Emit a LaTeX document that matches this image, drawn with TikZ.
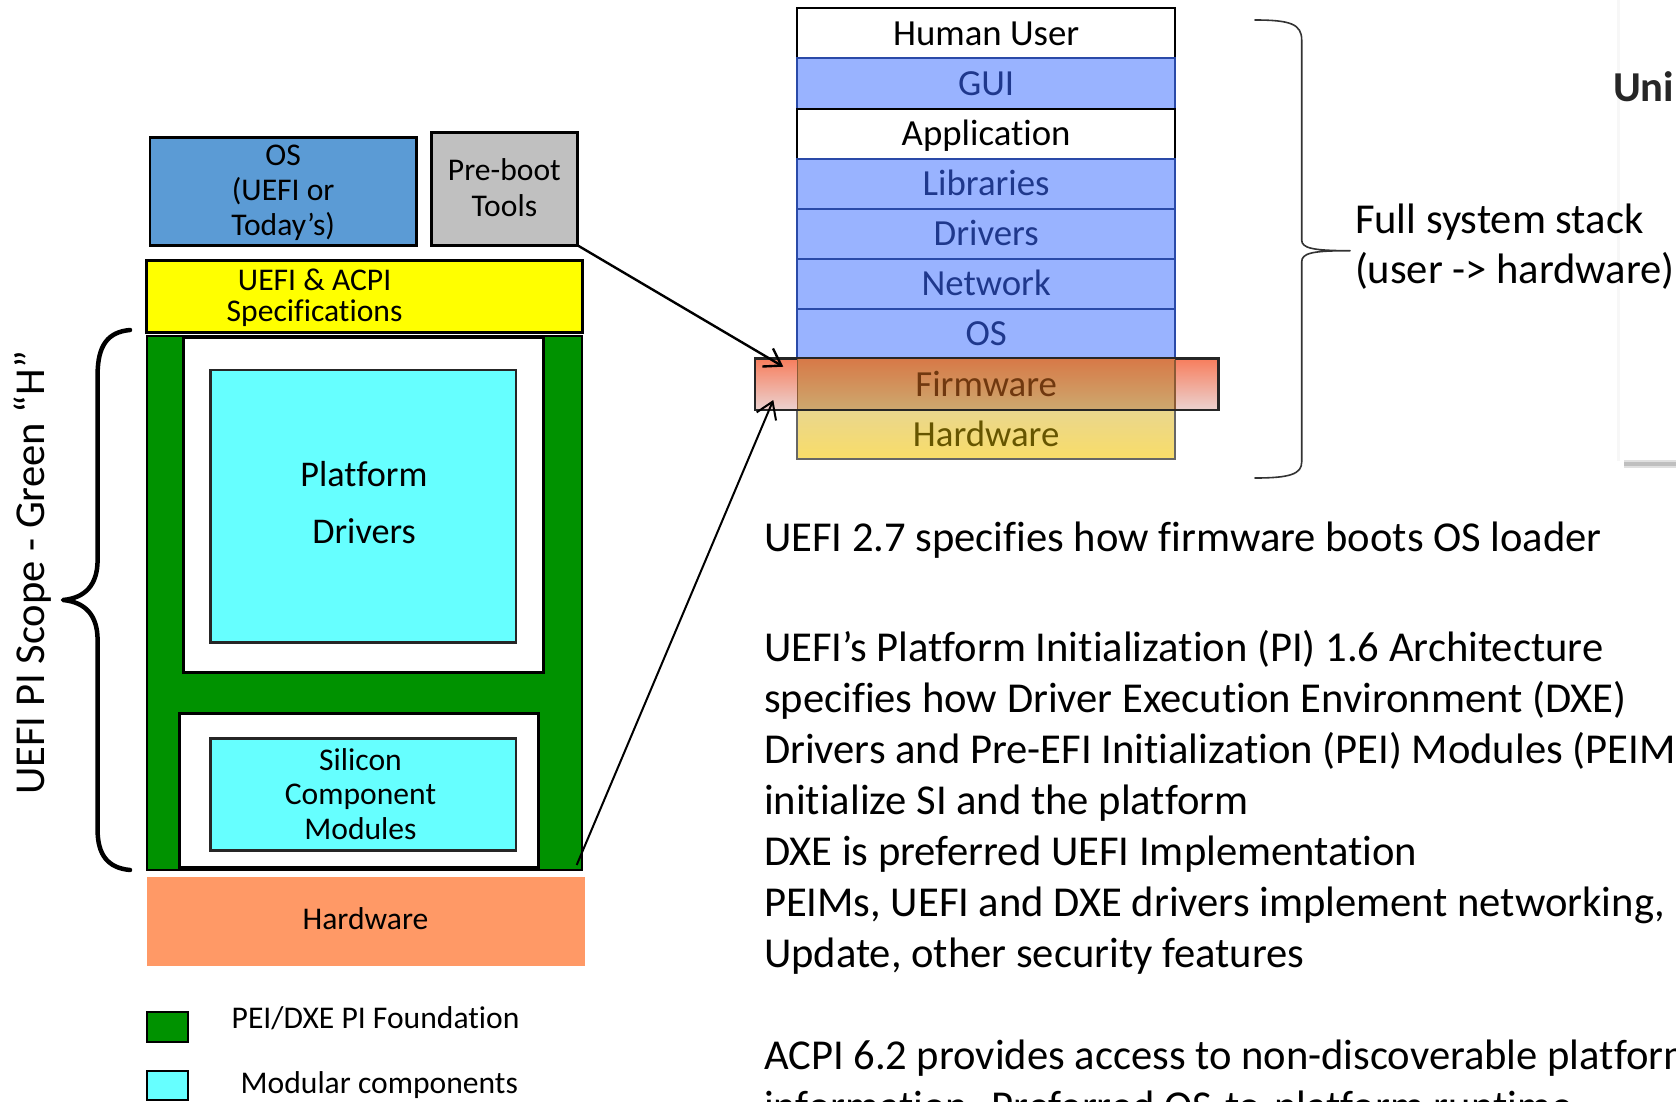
\documentclass[tikz,border=0pt]{standalone}
\usepackage{fontspec}
\setmainfont{Carlito}[Ligatures={TeX,NoCommon}]
\usetikzlibrary{arrows.meta,fit,calc}

\definecolor{osblue}{HTML}{5B9BD5}
\definecolor{toolgray}{HTML}{C0C0C0}
\definecolor{specyellow}{HTML}{FFFF00}
\definecolor{hgreen}{HTML}{009200}
\definecolor{modcyan}{HTML}{66FFFF}
\definecolor{hworange}{HTML}{FF9966}
\definecolor{layerblue}{HTML}{99B3FF}
\definecolor{layeredge}{HTML}{2A4AA8}
\definecolor{layertext}{HTML}{1F388C}
\definecolor{fwtop}{HTML}{F77D5C}
\definecolor{fwbot}{HTML}{EBD2D0}
\definecolor{fwintop}{HTML}{D77A48}
\definecolor{fwinbot}{HTML}{CDA86E}
\definecolor{fwtext}{HTML}{70380F}
\definecolor{fwedge}{HTML}{8A5A35}
\definecolor{hwtop}{HTML}{E9D68E}
\definecolor{hwbot}{HTML}{F9DD68}
\definecolor{hwtext}{HTML}{665500}

% font sizes (1pt = 1px of the layout grid)
\newcommand\fsml{\fontsize{31.6pt}{35pt}\selectfont}
\newcommand\fplat{\fontsize{36.2pt}{44pt}\selectfont}
\newcommand\fstk{\fontsize{36.8pt}{44pt}\selectfont}
\newcommand\fbig{\fontsize{42.6pt}{51pt}\selectfont}

% stacked lines whose baseline is that of the first line
\newcommand\linesc[2]{\vtop{\baselineskip=#1\lineskiplimit=-\maxdimen
  \halign{\hfil##\hfil\cr#2\crcr}}}
\newcommand\linesl[2]{\vtop{\baselineskip=#1\lineskiplimit=-\maxdimen
  \halign{##\hfil\cr#2\crcr}}}

\begin{document}
\begin{tikzpicture}[x=1pt,y=-1pt,
  box/.style={inner sep=0pt, outer sep=0pt, line width=2.5pt, draw=black},
  lbl/.style={inner sep=0pt, outer sep=0pt, anchor=base},
  lbll/.style={inner sep=0pt, outer sep=0pt, anchor=base west},
  layer/.style={inner sep=0pt, outer sep=0pt, line width=2pt,
    minimum width=377.7pt, minimum height=50.1pt,
    text height=24pt, text depth=0pt, font=\fstk},
  bluelayer/.style={layer, fill=layerblue, draw=layeredge, text=layertext},
  whitelayer/.style={layer, fill=white, draw=black},
  link/.style={line width=2.4pt, -{Straight Barb[length=16pt,width=21pt]}},
  bracestroke/.style={line cap=round, line join=round}
]
\useasboundingbox (0,0) rectangle (1676,1101);
\fill[white] (0,0) rectangle (1676,1101);
\begin{scope}
\clip (0,0) rectangle (1676,1101);

% edge of the neighbouring slide (kept under everything else)
\draw[black!3, line width=3pt] (1618,0) -- (1618,461);
\draw[black!12, line width=8pt] (1624,464) -- (1676,464);
\draw[black!25, line width=3.5pt] (1624,464) -- (1676,464);

% ---------- left: UEFI PI green "H" ----------
\node[box, fill=osblue, fit={(150,137.3) (416.4,245.3)}] (os) {};
\node[box, fill=toolgray, line width=3pt, fit={(431.3,132.3) (577.5,245.3)}] (pb) {};
\node[box, fill=specyellow, fit={(146.6,260.7) (582.5,332.7)}] (spec) {};
\node[box, fill=hgreen, line width=2pt, fit={(146.6,336) (581.7,870)}] (H) {};
\node[box, fill=white, line width=3pt, fit={(183,337.5) (543.4,672)}] (upw) {};
\node[box, fill=white, line width=3pt, fit={(179.9,713.3) (538.8,867.3)}] (loww) {};
\node[box, fill=modcyan, draw=black!85, fit={(210.5,370) (515.9,642.7)}] (plat) {};
\node[box, fill=modcyan, draw=black!85, fit={(210.5,738.7) (515.9,850.7)}] (sil) {};
\node[box, draw=none, fill=hworange, fit={(146.6,876.7) (584.8,966)}] (hwl) {};

\node[lbl, font=\fsml] (osT) at (283.2,165) {\linesc{35pt}{OS\cr(UEFI or\cr Today’s)}};
\node[lbl, font=\fsml] (pbT) at (504.4,180) {\linesc{36.7pt}{Pre-boot\cr Tools}};
\node[lbl, font=\fsml] (specT) at (314.6,290.7) {\linesc{31pt}{UEFI \& ACPI\cr Specifications}};
\node[lbl, font=\fplat] (platT) at (364,486.7) {\linesc{56.6pt}{Platform\cr Drivers}};
\node[lbl, font=\fsml] (silT) at (360.5,770) {\linesc{34.5pt}{Silicon\cr Component\cr Modules}};
\node[lbl, font=\fsml] (hwlT) at (365.5,929.3) {Hardware};

% legend
\node[box, line width=2pt, fill=hgreen, fit={(146.6,1012) (187.5,1041.7)}] (leg1) {};
\node[box, line width=2pt, fill=modcyan, fit={(146.6,1071) (187.5,1100)}] (leg2) {};
\node[lbl, font=\fsml] (leg1T) at (375.6,1028.3) {PEI/DXE PI Foundation};
\node[lbl, font=\fsml] (leg2T) at (379.3,1093.3) {Modular components};

% scope brace and its label
\draw[bracestroke, line width=4.5pt]
  (130,330) .. controls (108,332) and (97.6,345) .. (97.6,375)
  -- (97.6,560) .. controls (97.6,585) and (85,598) .. (63,600)
  .. controls (85,602) and (97.6,615) .. (97.6,640)
  -- (97.6,830) .. controls (97.6,855) and (108,868) .. (130,870);
\node[lbl, font=\fbig, rotate=90] (scopeT) at (44,573) {UEFI PI Scope - Green “H”};

% ---------- right: full system stack ----------
\node[whitelayer] (lHuman) at (986.15,33.35) {Human User};
\node[bluelayer] (lGui) at (986.15,83.45) {GUI};
\node[whitelayer] (lApp) at (986.15,133.55) {Application};
\node[bluelayer] (lLib) at (986.15,183.65) {Libraries};
\node[bluelayer] (lDrv) at (986.15,233.75) {Drivers};
\node[bluelayer] (lNet) at (986.15,283.85) {Network};
\node[bluelayer] (lOs) at (986.15,333.95) {OS};
\node[layer, top color=hwtop, bottom color=hwbot, draw=black!60, text=hwtext]
  (lHw) at (986.15,434.15) {Hardware};

% firmware band, wider than the stack
\node[box, top color=fwtop, bottom color=fwbot, draw=black!85,
  fit={(755,358.3) (1218.3,410)}] (fw) {};
\node[layer, draw=none, minimum height=49.2pt, top color=fwintop, bottom color=fwinbot,
  text=fwtext] (lFw) at (986.15,384.2) {Firmware};
\draw[fwedge, line width=1.5pt] (lFw.north west) -- (lFw.south west);
\draw[fwedge, line width=1.5pt] (lFw.north east) -- (lFw.south east);

% brace over the whole stack
\draw[bracestroke, line width=1.6pt, black!80]
  (1255,20) .. controls (1290,20) and (1301.7,24) .. (1301.7,40)
  -- (1301.7,240) .. controls (1301.7,248) and (1312,250.7) .. (1350,250.7)
  .. controls (1312,250.7) and (1301.7,253) .. (1301.7,262)
  -- (1301.7,462) .. controls (1301.7,474) and (1290,478) .. (1255,478);
\node[lbll, font=\fbig] (fullT) at (1355,233.3)
  {\linesl{50pt}{Full system stack\cr(user -> hardware)}};

% connectors into the firmware band
\coordinate (fwin1) at (783.3,366.7);
\coordinate (fwin2) at (773.3,400);
\draw[link] (pb.south east) -- (fwin1);
\draw[link, line width=2pt] ($(H.south east)+(-5,-5)$) -- (fwin2);

% ---------- explanatory text ----------
\node[lbll, font=\fbig] (t1) at (764,551.7) {UEFI 2.7 specifies how firmware boots OS loader};
\node[lbll, font=\fbig] (t2) at (764,661.5) {\linesl{51pt}{%
  UEFI’s Platform Initialization (PI) 1.6 Architecture\cr
  specifies how Driver Execution Environment (DXE)\cr
  Drivers and Pre-EFI Initialization (PEI) Modules (PEIMs)\cr
  initialize SI and the platform\cr
  DXE is preferred UEFI Implementation\cr
  PEIMs, UEFI and DXE drivers implement networking,\cr
  Update, other security features}};
\node[lbll, font=\fbig] (t3) at (764,1069.5) {\linesl{51pt}{%
  ACPI 6.2 provides access to non-discoverable platform\cr
  information. Preferred OS-to-platform runtime}};

\node[lbll, font={\fbig\bfseries}, text=black!85] (uni) at (1613,101.7) {Uni};
\end{scope}
\end{tikzpicture}
\end{document}
